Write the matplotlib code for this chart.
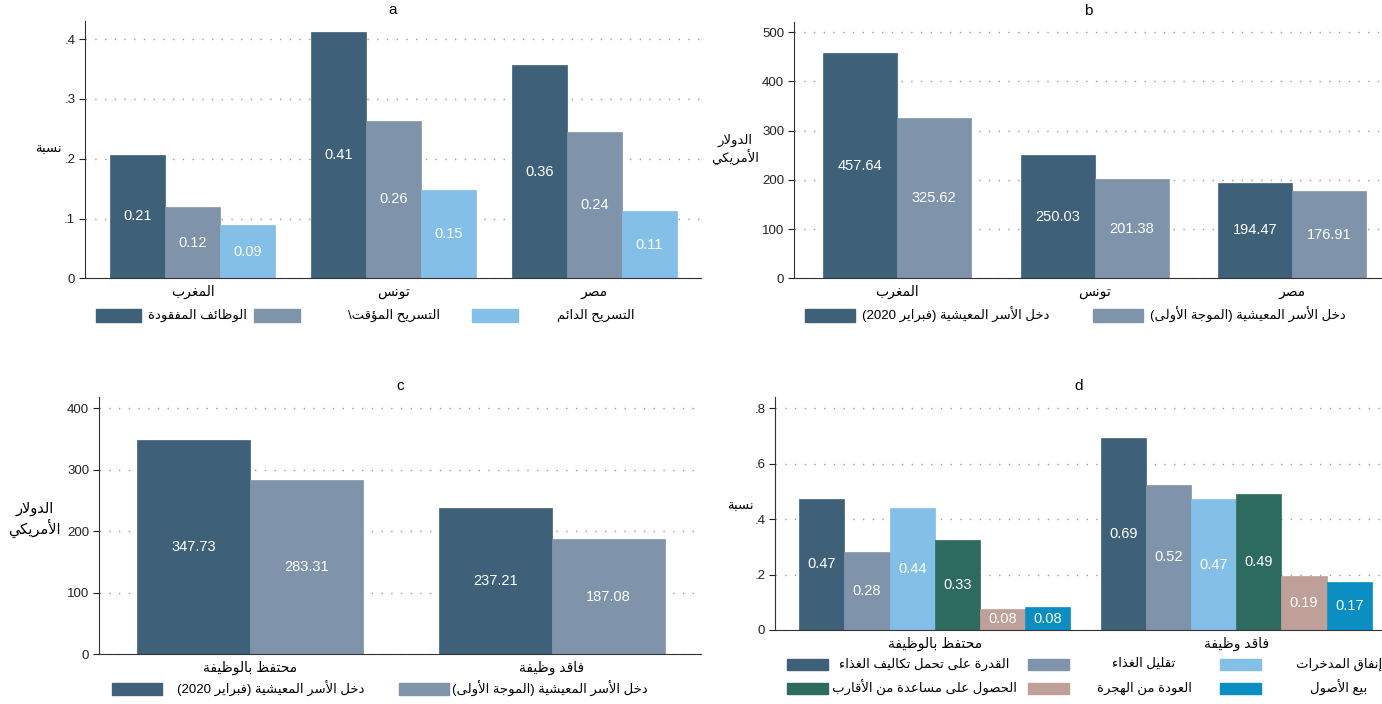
import re
import matplotlib
matplotlib.use('Agg')
import matplotlib.pyplot as plt
from matplotlib.patches import Rectangle
import numpy as np

plt.rcParams['font.family'] = ['Liberation Sans', 'DejaVu Sans']

# matplotlib has no arabic shaping / bidi, so do a small one by hand
LETTERS = 'ءآأؤإئابةتثجحخدذرزسشصضطظعغفقكلمنهوىي'
NFORMS = [1, 2, 2, 2, 2, 4, 2, 4, 2, 4, 4, 4, 4, 4, 2, 2, 2, 2,
          4, 4, 4, 4, 4, 4, 4, 4, 4, 4, 4, 4, 4, 4, 4, 2, 2, 4]
FORMS = {}
code = 0xFE80
for ch, n in zip(LETTERS, NFORMS):
    FORMS[ch] = [chr(code + k) for k in range(n)]
    code += n
LAM_ALEF = {'آ': 0xFEF5, 'أ': 0xFEF7, 'إ': 0xFEF9, 'ا': 0xFEFB}


def ar(text):
    lines = []
    for line in text.split('\n'):
        units = []
        i = 0
        while i < len(line):
            if line[i] == 'ل' and i + 1 < len(line) and line[i + 1] in LAM_ALEF:
                units.append(line[i:i + 2])
                i += 2
            else:
                units.append(line[i])
                i += 1
        out = ''
        for k, u in enumerate(units):
            prev = units[k - 1] if k > 0 else ''
            nxt = units[k + 1] if k + 1 < len(units) else ''
            jp = len(FORMS.get(prev, [])) == 4
            if len(u) == 2:
                out += chr(LAM_ALEF[u[1]] + jp)
                continue
            if u not in FORMS:
                out += u
                continue
            f = FORMS[u]
            jn = len(f) == 4 and (len(nxt) == 2 or len(FORMS.get(nxt, [])) >= 2)
            jp = jp and len(f) > 1
            if jp and jn:
                out += f[3]
            elif jn:
                out += f[2]
            elif jp:
                out += f[1]
            else:
                out += f[0]
        vis = out[::-1]
        vis = re.sub(r'[0-9.]+', lambda m: m.group()[::-1], vis)
        vis = vis.translate(str.maketrans('()', ')('))
        lines.append(vis)
    return '\n'.join(lines)


# ---- data ----
countries = ['المغرب', 'تونس', 'مصر']
jobs_lost = [0.207, 0.412, 0.357]
temp_layoff = [0.119, 0.264, 0.244]
perm_layoff = [0.089, 0.147, 0.113]
labels_a = ['الوظائف المفقودة', 'التسريح المؤقت\\', 'التسريح الدائم']

income_feb2020 = [457.64, 250.03, 194.47]
income_wave1 = [325.62, 201.38, 176.91]
labels_income = ['دخل الأسر المعيشية (فبراير 2020)', 'دخل الأسر المعيشية (الموجة الأولى)']

job_status = ['محتفظ بالوظيفة', 'فاقد وظيفة']
status_feb2020 = [347.73, 237.21]
status_wave1 = [283.31, 187.08]

coping_labels = ['القدرة على تحمل تكاليف الغذاء', 'تقليل الغذاء', 'إنفاق المدخرات',
                 'الحصول على مساعدة من الأقارب', 'العودة من الهجرة', 'بيع الأصول']
coping_kept = [0.473, 0.283, 0.439, 0.326, 0.076, 0.082]
coping_lost = [0.692, 0.524, 0.472, 0.492, 0.194, 0.172]

yticks_a = [0, 0.1, 0.2, 0.3, 0.4]
yticks_b = [0, 100, 200, 300, 400, 500]
yticks_c = [0, 100, 200, 300, 400]
yticks_d = [0, 0.2, 0.4, 0.6, 0.8]

colors = ['#3e6079', '#7f94aa', '#84bfe8', '#2e6b5f', '#bfa099', '#0b8fc3']

W, H = 1382, 704
fig = plt.figure(figsize=(W / 100, H / 100), dpi=100)


def axes_px(x0, x1, y0, y1):
    return fig.add_axes([x0 / W, 1 - y1 / H, (x1 - x0) / W, (y1 - y0) / H])


def bars(ax, cats, series, width, fmt, title, yticks, ylim, xlim, ytl):
    x = np.arange(len(cats))
    n = len(series)
    for j, vals in enumerate(series):
        xs = x + (j - (n - 1) / 2) * width
        ax.bar(xs, vals, width, color=colors[j], edgecolor=colors[j], lw=0.5, zorder=2)
        for xi, v in zip(xs, vals):
            ax.text(xi, v / 2, fmt % v, color='white', ha='center', va='center', fontsize=10.5)
    ax.set_xticks(x)
    ax.set_xticklabels([ar(c) for c in cats], fontsize=10)
    ax.set_yticks(yticks)
    ax.set_yticklabels(ytl, fontsize=9.5)
    ax.set_ylim(*ylim)
    ax.set_xlim(*xlim)
    ax.tick_params(axis='x', length=0, pad=5)
    ax.tick_params(axis='y', length=4, width=0.8, pad=3, colors='#222222')
    ax.yaxis.grid(True, linestyle=(0, (1, 6)), color='#999999', lw=1)
    ax.set_axisbelow(True)
    for s in ['top', 'right']:
        ax.spines[s].set_visible(False)
    for s in ['left', 'bottom']:
        ax.spines[s].set_color('#333333')
        ax.spines[s].set_linewidth(0.8)
    ax.set_title(title, fontsize=11, pad=5)


def legend_px(entries, h):
    for x0, w, y, xt, color, label in entries:
        fig.add_artist(Rectangle((x0 / W, 1 - (y + h / 2) / H), w / W, h / H,
                                 transform=fig.transFigure, color=color))
        fig.text(xt / W, 1 - y / H, ar(label), ha='center', va='center', fontsize=9.5)


# panel a
ax = axes_px(85, 701, 20.7, 278.3)
bars(ax, countries, [jobs_lost, temp_layoff, perm_layoff], 0.274, '%.2f', 'a',
     yticks_a, (0, 0.431), (-0.535, 2.53), ['0', '.1', '.2', '.3', '.4'])
fig.text(48 / W, 1 - 150 / H, ar('نسبة'), ha='center', va='center', fontsize=9.5)
legend_px([(96, 45, 315, 197, colors[0], labels_a[0]),
           (254, 46, 315, 394, colors[1], labels_a[1]),
           (472, 46, 315, 596, colors[2], labels_a[2])], 13)

# panel b
ax = axes_px(794, 1382, 21.7, 278.3)
bars(ax, countries, [income_feb2020, income_wave1], 0.374, '%.2f', 'b',
     yticks_b, (0, 521.5), (-0.521, 2.453), [str(t) for t in yticks_b])
fig.text(735 / W, 1 - 150 / H, ar('الدولار\nالأمريكي'), ha='center', va='center',
         fontsize=9.5, linespacing=1.2)
legend_px([(805, 50, 315, 956, colors[0], labels_income[0]),
           (1093, 50, 315, 1248, colors[1], labels_income[1])], 13)

# panel c
ax = axes_px(99, 701, 397.3, 654.3)
bars(ax, job_status, [status_feb2020, status_wave1], 0.3746, '%.2f', 'c',
     yticks_c, (0, 417.9), (-0.502, 1.495), [str(t) for t in yticks_c])
fig.text(34.5 / W, 1 - 520 / H, ar('الدولار\nالأمريكي'), ha='center', va='center',
         fontsize=10.5, linespacing=1.2)
legend_px([(111.6, 50, 689, 270.5, colors[0], labels_income[0]),
           (398.7, 50, 689, 550, colors[1], labels_income[1])], 12)

# panel d
ax = axes_px(775, 1382, 397.3, 630)
series_d = [[coping_kept[k], coping_lost[k]] for k in range(6)]
bars(ax, job_status, series_d, 0.15, '%.2f', 'd',
     yticks_d, (0, 0.8397), (-0.53, 1.4836), ['0', '.2', '.4', '.6', '.8'])
fig.text(740.5 / W, 1 - 507 / H, ar('نسبة'), ha='center', va='center', fontsize=9.5)
legend_px([(787, 41, 664, 924, colors[0], coping_labels[0]),
           (1027.6, 41, 664, 1144, colors[1], coping_labels[1]),
           (1219.6, 41, 664, 1339, colors[2], coping_labels[2]),
           (787, 41, 688, 924, colors[3], coping_labels[3]),
           (1027.6, 41, 688, 1144, colors[4], coping_labels[4]),
           (1219.6, 41, 688, 1339, colors[5], coping_labels[5])], 11)

fig.savefig('out.png', dpi=100)
